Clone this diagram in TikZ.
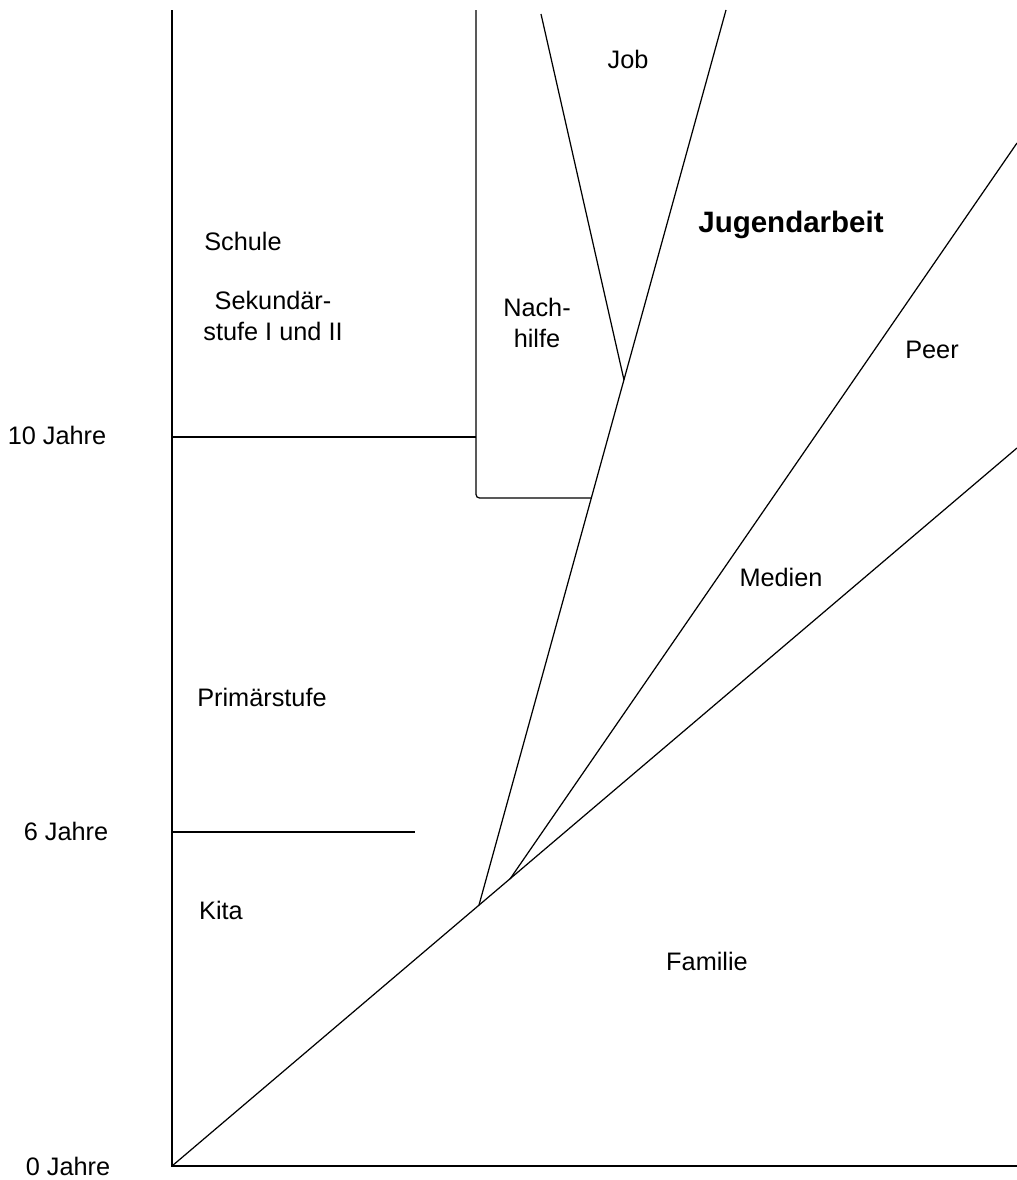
\documentclass[tikz,border=0pt]{standalone}
\usepackage{fontspec}
\setmainfont{Liberation Sans}
\usepackage{xcolor,tikz}
\usetikzlibrary{positioning}

\begin{document}
\begin{tikzpicture}[x=0.02cm, y=-0.02cm]
  \definecolor{linecolor}{HTML}{000000}
  \newcommand{\areaname}[1]{\fontsize{14.4}{17.5}\selectfont \begin{tabular}{c}#1\end{tabular}}
  \newcommand{\agename}[1]{\fontsize{14.4}{17.5}\selectfont #1}
  \tikzstyle{boundary} = [line width=0.7pt, draw=linecolor]
  \tikzstyle{area}     = [inner sep=0pt]
  \tikzstyle{headline} = [inner sep=0pt, font=\fontsize{16.8}{20}\selectfont\bfseries]

  \useasboundingbox (0,0) rectangle (1017,1180);

  \coordinate (origin)     at (172,1166);
  \coordinate (axistop)    at (172,10);
  \coordinate (axisend)    at (1017,1166);
  \coordinate (familieend) at (1017,448);
  \coordinate (jugendfoot) at (479,905);
  \coordinate (jugendtop)  at (726,10);
  \coordinate (medienfoot) at (510,879);
  \coordinate (medientop)  at (1017,143);
  \coordinate (jobtop)     at (541,14);
  \coordinate (jobfoot)    at (624,380);
  \coordinate (nachtop)    at (476,10);
  \coordinate (nachcorner) at (476,498);
  \coordinate (nachend)    at (591,498);
  \coordinate (tenleft)    at (172,437);
  \coordinate (tenright)   at (476,437);
  \coordinate (sixleft)    at (172,832);
  \coordinate (sixright)   at (415,832);

  % axes
  \draw [boundary] (axistop) -- (origin) -- (axisend);
  % fan of areas
  \draw [boundary] (origin) -- (familieend);
  \draw [boundary] (jugendfoot) -- (jugendtop);
  \draw [boundary] (medienfoot) -- (medientop);
  \draw [boundary] (jobtop) -- (jobfoot);
  \draw [boundary, rounded corners=2pt] (nachtop) -- (nachcorner) -- (nachend);
  % age steps
  \draw [boundary] (tenleft) -- (tenright);
  \draw [boundary] (sixleft) -- (sixright);

  \node [area] (job)      at (628,62)  {\areaname{Job}};
  \node [headline] (jugendarbeit) at (791,225) {Jugendarbeit};
  \node [area] (schule)   at (243,244) {\areaname{Schule}};
  \node [area] (sek)      at (273,319) {\areaname{Sekundär-\\stufe I und II}};
  \node [area] (nachhilfe) at (537,326) {\areaname{Nach-\\hilfe}};
  \node [area] (peer)     at (932,352) {\areaname{Peer}};
  \node [area] (medien)   at (781,580) {\areaname{Medien}};
  \node [area] (primar)   at (262,700) {\areaname{Primärstufe}};
  \node [area] (kita)     at (221,913) {\areaname{Kita}};
  \node [area] (familie)  at (707,964) {\areaname{Familie}};

  \node [area] (ten)  at (57,435)  {\agename{10 Jahre}};
  \node [area] (six)  at (66,831)  {\agename{6 Jahre}};
  \node [area] (zero) at (68,1166) {\agename{0 Jahre}};
\end{tikzpicture}
\end{document}
